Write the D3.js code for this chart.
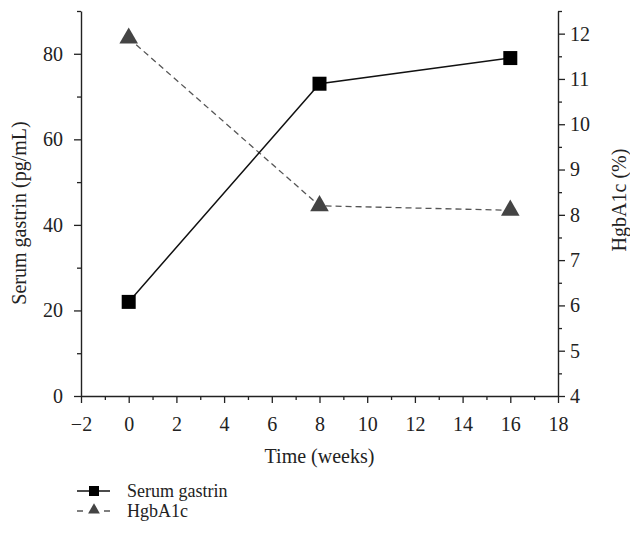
<!DOCTYPE html>
<html>
<head>
<meta charset="utf-8">
<script src="https://cdn.jsdelivr.net/npm/d3@7"></script>
<style>
  body { margin: 0; background: #fff; }
  text { font-family: "Liberation Serif", "DejaVu Serif", serif; }
</style>
</head>
<body>
<div id="chart"></div>
<script>
// data
const weeks = [0, 8, 16];
const gastrin = [22, 73, 79];      // pg/mL, left axis
const hgba1c = [11.9, 8.2, 8.1];   // %, right axis

const xTicks = [-2, 0, 2, 4, 6, 8, 10, 12, 14, 16, 18];
const leftTicks = [0, 20, 40, 60, 80];
const rightTicks = [4, 5, 6, 7, 8, 9, 10, 11, 12];

const width = 630;
const height = 542;
const margin = { top: 11, right: 72, bottom: 146, left: 81 };
const fontSize = 20;
const legendFont = 18;

const svg = d3.select("#chart")
    .append("svg")
    .attr("width", width)
    .attr("height", height);

//scales
const xScale = d3.scaleLinear()
    .domain([-2, 18])
    .range([margin.left, width - margin.right]);

const yLeft = d3.scaleLinear()
    .domain([0, 90])
    .range([height - margin.bottom, margin.top]);

const yRight = d3.scaleLinear()
    .domain([4, 12.5])
    .range([height - margin.bottom, margin.top]);

const bottomY = height - margin.bottom;

//minor ticks first (no labels)
svg.append("g")
    .attr("transform", "translate(0," + bottomY + ")")
    .call(d3.axisBottom(xScale).tickValues(d3.range(-1, 18, 2)).tickSize(4).tickFormat(""))
    .call(g => g.select(".domain").remove());

svg.append("g")
    .attr("transform", "translate(" + margin.left + ",0)")
    .call(d3.axisLeft(yLeft).tickValues([10, 30, 50, 70, 90]).tickSize(4).tickFormat(""))
    .call(g => g.select(".domain").remove());

svg.append("g")
    .attr("transform", "translate(" + (width - margin.right) + ",0)")
    .call(d3.axisRight(yRight).tickValues(d3.range(4.5, 12.6, 1)).tickSize(4).tickFormat(""))
    .call(g => g.select(".domain").remove());

//major axes
const xAxis = svg.append("g")
    .attr("transform", "translate(0," + bottomY + ")")
    .call(d3.axisBottom(xScale).tickValues(xTicks).tickSize(7).tickSizeOuter(0).tickPadding(14)
        .tickFormat(d => d < 0 ? "\u2212" + Math.abs(d) : d));

const leftAxis = svg.append("g")
    .attr("transform", "translate(" + margin.left + ",0)")
    .call(d3.axisLeft(yLeft).tickValues(leftTicks).tickSize(7).tickSizeOuter(0).tickPadding(11));

const rightAxis = svg.append("g")
    .attr("transform", "translate(" + (width - margin.right) + ",0)")
    .call(d3.axisRight(yRight).tickValues(rightTicks).tickSize(7).tickSizeOuter(0).tickPadding(5));

svg.selectAll(".tick line").attr("stroke", "#222").attr("stroke-width", 1.3);
svg.selectAll(".domain").attr("stroke", "#222").attr("stroke-width", 1.4);
[xAxis, leftAxis, rightAxis].forEach(function(a) {
    a.selectAll("text")
        .style("font-family", "'Liberation Serif', serif")
        .style("font-size", fontSize + "px")
        .attr("fill", "#222");
});

//axis titles
svg.append("text")
    .attr("x", (xScale(-2) + xScale(18)) / 2)
    .attr("y", 463)
    .attr("text-anchor", "middle")
    .attr("font-size", fontSize + "px")
    .attr("fill", "#222")
    .text("Time (weeks)");

svg.append("text")
    .attr("transform", "translate(26," + 213 + ") rotate(-90)")
    .attr("text-anchor", "middle")
    .attr("font-size", fontSize + "px")
    .attr("fill", "#222")
    .text("Serum gastrin (pg/mL)");

svg.append("text")
    .attr("transform", "translate(626," + 200 + ") rotate(-90)")
    .attr("text-anchor", "middle")
    .attr("font-size", fontSize + "px")
    .attr("fill", "#222")
    .text("HgbA1c (%)");

//lines
const gastrinData = weeks.map((w, i) => ({ x: w, y: gastrin[i] }));
const hgbData = weeks.map((w, i) => ({ x: w, y: hgba1c[i] }));

svg.append("path")
    .datum(hgbData)
    .attr("fill", "none")
    .attr("stroke", "#555")
    .attr("stroke-width", 1.3)
    .attr("stroke-dasharray", "6,4")
    .attr("d", d3.line().x(d => xScale(d.x)).y(d => yRight(d.y)));

svg.append("path")
    .datum(gastrinData)
    .attr("fill", "none")
    .attr("stroke", "#111")
    .attr("stroke-width", 1.5)
    .attr("d", d3.line().x(d => xScale(d.x)).y(d => yLeft(d.y)));

//markers
const sq = 14;
svg.selectAll(".sq")
    .data(gastrinData)
    .enter()
    .append("rect")
    .attr("x", d => xScale(d.x) - sq / 2)
    .attr("y", d => yLeft(d.y) - sq / 2)
    .attr("width", sq)
    .attr("height", sq)
    .attr("fill", "#000");

const tri = d3.symbol().type(d3.symbolTriangle).size(150);
svg.selectAll(".tri")
    .data(hgbData)
    .enter()
    .append("path")
    .attr("transform", d => "translate(" + xScale(d.x) + "," + yRight(d.y) + ")")
    .attr("d", tri)
    .attr("fill", "#444");

//legend
const legend = svg.append("g");

legend.append("line")
    .attr("x1", 77).attr("x2", 110)
    .attr("y1", 491).attr("y2", 491)
    .attr("stroke", "#111").attr("stroke-width", 1.5);
legend.append("rect")
    .attr("x", 89).attr("y", 486)
    .attr("width", 10).attr("height", 10)
    .attr("fill", "#000");
legend.append("text")
    .attr("x", 127).attr("y", 497)
    .attr("font-size", legendFont + "px")
    .attr("fill", "#222")
    .text("Serum gastrin");

legend.append("line")
    .attr("x1", 77).attr("x2", 110)
    .attr("y1", 511).attr("y2", 511)
    .attr("stroke", "#555").attr("stroke-width", 1.3)
    .attr("stroke-dasharray", "6,21");
legend.append("path")
    .attr("transform", "translate(94,510)")
    .attr("d", d3.symbol().type(d3.symbolTriangle).size(60))
    .attr("fill", "#444");
legend.append("text")
    .attr("x", 127).attr("y", 517)
    .attr("font-size", legendFont + "px")
    .attr("fill", "#222")
    .text("HgbA1c");
</script>
</body>
</html>
